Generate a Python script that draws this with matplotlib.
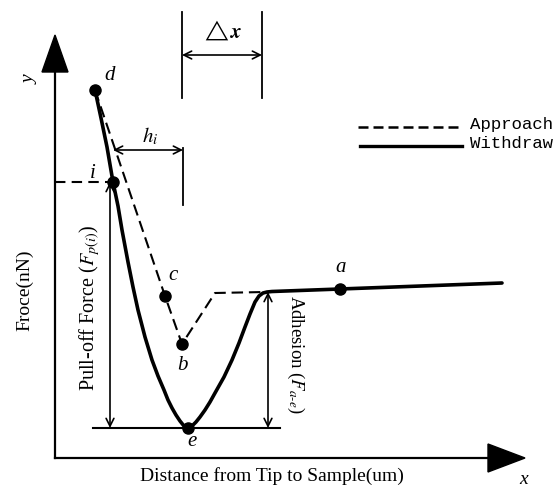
import matplotlib
matplotlib.use("Agg")
import matplotlib.pyplot as plt
from matplotlib.patches import Polygon

plt.rcParams['font.family'] = ['Liberation Serif', 'DejaVu Serif']
plt.rcParams['mathtext.fontset'] = 'stix'

# Schematic data (drawing units = pixels of the reference, y grows downward)
withdraw_x = [95, 101, 107, 113, 118, 122, 128, 133, 138, 145, 152, 158, 164, 168, 172, 176, 180, 184,
              188, 192, 196, 200, 205, 210, 215, 224, 232, 239, 245, 250, 255, 259, 263, 267, 272, 340, 502]
withdraw_y = [90, 118, 147, 182, 206, 230, 262, 287, 310, 337, 360, 376, 390, 400, 408, 415, 421, 426,
              428, 426, 422, 417, 410, 402, 393, 377, 360, 343, 327, 314, 302, 296, 293, 292, 291.5, 289, 283]
approach_x = [95, 165, 182, 215, 265]
approach_y = [90, 296, 344, 293, 292]

points = {'d': (95, 90), 'i': (113, 182), 'c': (165, 296), 'b': (182, 344), 'e': (188, 428), 'a': (340, 289)}
point_labels = {'d': (110, 75), 'i': (93, 174), 'c': (173, 275), 'b': (182, 366), 'e': (192, 442), 'a': (341, 268)}

legend_labels = ['Approach', 'Withdraw']

fig = plt.figure(figsize=(5.55, 4.88), dpi=100)
ax = fig.add_axes([0, 0, 1, 1])
ax.set_xlim(0, 555)
ax.set_ylim(488, 0)
ax.axis('off')

# axes with filled arrowheads
ax.plot([55, 55], [458, 70], color='black', lw=1.6)
ax.plot([55, 490], [458, 458], color='black', lw=1.6)
ax.add_patch(Polygon([[55, 35], [42, 72], [68, 72]], closed=True, color='black'))
ax.add_patch(Polygon([[525, 458], [488, 444], [488, 472]], closed=True, color='black'))
ax.text(30, 80, 'y', rotation=90, ha='center', va='center', fontsize=14, style='italic')
ax.text(524, 479, 'x', ha='center', va='center', fontsize=14, style='italic')
ax.text(25, 290, 'Froce(nN)', rotation=90, ha='center', va='center', fontsize=14)
ax.text(272, 476, 'Distance from Tip to Sample(um)', ha='center', va='center', fontsize=14)

# curves
ax.plot(approach_x, approach_y, color='black', lw=1.5, dashes=(5.5, 2.8))
ax.plot(withdraw_x, withdraw_y, color='black', lw=2.6, solid_joinstyle='round', solid_capstyle='round')

for k, (px, py) in points.items():
    ax.plot(px, py, 'o', color='black', ms=8)
    lx, ly = point_labels[k]
    ax.text(lx, ly, k, ha='center', va='center', fontsize=15, style='italic')

# guide lines
ax.plot([55, 110], [182, 182], color='black', lw=1.5, dashes=(5, 3))
ax.plot([93, 280], [428, 428], color='black', lw=1.5)
arrow = dict(arrowstyle='<->', color='black', lw=1.2, mutation_scale=14, shrinkA=0, shrinkB=0)
ax.annotate('', xy=(110, 428), xytext=(110, 182), arrowprops=arrow)
ax.annotate('', xy=(268, 428), xytext=(268, 292), arrowprops=arrow)
ax.annotate('', xy=(113, 150), xytext=(183, 150), arrowprops=arrow)
ax.plot([183, 183], [148, 205], color='black', lw=1.3)
ax.plot([182, 182], [12, 98], color='black', lw=1.3)
ax.plot([262, 262], [12, 98], color='black', lw=1.3)
ax.annotate('', xy=(182, 55), xytext=(262, 55), arrowprops=arrow)
ax.text(222, 31, r'$\triangle\boldsymbol{x}$', ha='center', va='center', fontsize=15)
ax.text(150, 136, r'$h_{\mathit{i}}$', ha='center', va='center', fontsize=15)

ax.text(90, 308, r'Pull-off Force ($F_{p(i)}$)', rotation=90, ha='center', va='center', fontsize=14.5)
ax.text(296, 355, r'Adhesion ($F_{a\text{-}e}$)', rotation=-90, ha='center', va='center', fontsize=13.5)

# legend
ax.plot([358, 462], [127, 127], color='black', lw=1.8, dashes=(4, 2))
ax.plot([360, 462], [146, 146], color='black', lw=2.4)
ax.text(470, 124, legend_labels[0], ha='left', va='center', fontsize=12.5, family='Liberation Mono')
ax.text(470, 144, legend_labels[1], ha='left', va='center', fontsize=12.5, family='Liberation Mono')

fig.savefig('out.png', dpi=100)
